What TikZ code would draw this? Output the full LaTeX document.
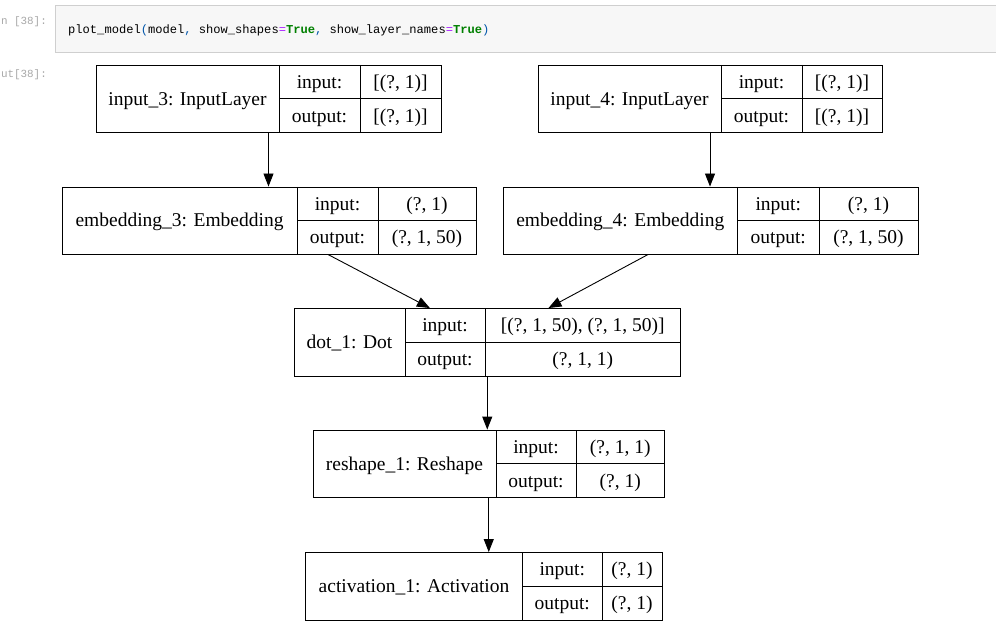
\documentclass[tikz,border=0pt]{standalone}
\usepackage{fontspec}
\setmainfont{Liberation Serif}
\setmonofont{Liberation Mono}
\usepackage{xcolor}
\usetikzlibrary{arrows.meta,calc}
\definecolor{cellbg}{HTML}{F7F7F7}
\definecolor{cellrule}{HTML}{CFCFCF}
\definecolor{prompt}{HTML}{A8A8A8}
\definecolor{cbr}{HTML}{0055AA}
\definecolor{cop}{HTML}{AA22FF}
\definecolor{ckw}{HTML}{008000}
\tikzset{
  layer/.style={draw, line width=0.9pt, inner sep=0pt},
  rule/.style={line width=0.9pt},
  txt/.style={font=\fontsize{19.5}{22}\selectfont, text height=14pt, text depth=1pt, inner sep=0pt},
  flow/.style={line width=0.9pt, -{Triangle[length=13pt,width=10pt]}},
  promptxt/.style={prompt, anchor=base east, font=\ttfamily\fontsize{10.9}{13}\selectfont, inner sep=0pt},
}
\begin{document}
\begin{tikzpicture}[x=1pt,y=-1pt]
\useasboundingbox (0,0) rectangle (996,628);
\clip (0,0) rectangle (996,628);
% notebook cell
\draw [cellrule, fill=cellbg] (55,5.5) rectangle (1005,52);
\node [promptxt] (pin) at (47,24.3) {n [38]:};
\node [promptxt] (pout) at (47,77.3) {ut[38]:};
\node [anchor=base west, font=\ttfamily\fontsize{12.1}{14}\selectfont, inner sep=0pt] (code) at (68,33.3) {plot\_model\textcolor{cbr}{(}model\textcolor{cbr}{,} show\_shapes\textcolor{cop}{=}\textcolor{ckw}{\bfseries True}\textcolor{cbr}{,} show\_layer\_names\textcolor{cop}{=}\textcolor{ckw}{\bfseries True}\textcolor{cbr}{)}};
% input_3
\node [layer, minimum width=345pt, minimum height=67.5pt] (in3) at (268.5,98.75) {};
\draw [rule] (279,65) -- (279,132.5);
\draw [rule] (360,65) -- (360,132.5);
\draw [rule] (279,98.75) -- (441,98.75);
\node [txt] (in3n) at (187.5,98.75) {input\_3: InputLayer};
\node [txt] (in3i) at (319.5,81.9) {input:};
\node [txt] (in3o) at (319.5,115.6) {output:};
\node [txt] (in3iv) at (400.5,81.9) {[(?, 1)]};
\node [txt] (in3ov) at (400.5,115.6) {[(?, 1)]};
% input_4
\node [layer, minimum width=344pt, minimum height=67.5pt] (in4) at (710,98.75) {};
\draw [rule] (721,65) -- (721,132.5);
\draw [rule] (802,65) -- (802,132.5);
\draw [rule] (721,98.75) -- (882,98.75);
\node [txt] (in4n) at (629.5,98.75) {input\_4: InputLayer};
\node [txt] (in4i) at (761.5,81.9) {input:};
\node [txt] (in4o) at (761.5,115.6) {output:};
\node [txt] (in4iv) at (842,81.9) {[(?, 1)]};
\node [txt] (in4ov) at (842,115.6) {[(?, 1)]};
% embedding_3
\node [layer, minimum width=414pt, minimum height=67pt] (emb3) at (269,220.5) {};
\draw [rule] (297,187) -- (297,254);
\draw [rule] (378,187) -- (378,254);
\draw [rule] (297,220.5) -- (476,220.5);
\node [txt] (emb3n) at (179.5,220.5) {embedding\_3: Embedding};
\node [txt] (emb3i) at (337.5,203.75) {input:};
\node [txt] (emb3o) at (337.5,237.25) {output:};
\node [txt] (emb3iv) at (427,203.75) {(?, 1)};
\node [txt] (emb3ov) at (427,237.25) {(?, 1, 50)};
% embedding_4
\node [layer, minimum width=415pt, minimum height=67pt] (emb4) at (710.5,220.5) {};
\draw [rule] (737.5,187) -- (737.5,254);
\draw [rule] (819,187) -- (819,254);
\draw [rule] (737.5,220.5) -- (918,220.5);
\node [txt] (emb4n) at (620.25,220.5) {embedding\_4: Embedding};
\node [txt] (emb4i) at (778.25,203.75) {input:};
\node [txt] (emb4o) at (778.25,237.25) {output:};
\node [txt] (emb4iv) at (868.5,203.75) {(?, 1)};
\node [txt] (emb4ov) at (868.5,237.25) {(?, 1, 50)};
% dot_1
\node [layer, minimum width=386.5pt, minimum height=67.5pt] (dot) at (487.25,342.25) {};
\draw [rule] (405,308.5) -- (405,376);
\draw [rule] (485,308.5) -- (485,376);
\draw [rule] (405,342.25) -- (680.5,342.25);
\node [txt] (dotn) at (349.5,342.25) {dot\_1: Dot};
\node [txt] (doti) at (445,325.4) {input:};
\node [txt] (doto) at (445,359.1) {output:};
\node [txt] (dotiv) at (582.75,325.4) {[(?, 1, 50), (?, 1, 50)]};
\node [txt] (dotov) at (582.75,359.1) {(?, 1, 1)};
% reshape_1
\node [layer, minimum width=351.5pt, minimum height=67.5pt] (resh) at (488.75,463.75) {};
\draw [rule] (496,430) -- (496,497.5);
\draw [rule] (576,430) -- (576,497.5);
\draw [rule] (496,463.75) -- (664.5,463.75);
\node [txt] (reshn) at (404.5,463.75) {reshape\_1: Reshape};
\node [txt] (reshi) at (536,446.9) {input:};
\node [txt] (resho) at (536,480.6) {output:};
\node [txt] (reshiv) at (620.25,446.9) {(?, 1, 1)};
\node [txt] (reshov) at (620.25,480.6) {(?, 1)};
% activation_1
\node [layer, minimum width=356.5pt, minimum height=67.5pt] (act) at (483.75,586.25) {};
\draw [rule] (522.5,552.5) -- (522.5,620);
\draw [rule] (602,552.5) -- (602,620);
\draw [rule] (522.5,586.25) -- (662,586.25);
\node [txt] (actn) at (414,586.25) {activation\_1: Activation};
\node [txt] (acti) at (562.25,569.4) {input:};
\node [txt] (acto) at (562.25,603.1) {output:};
\node [txt] (activ) at (632,569.4) {(?, 1)};
\node [txt] (actov) at (632,603.1) {(?, 1)};
% connectors
\draw [flow] (in3.south) -- (in3.south |- emb3.north);
\draw [flow] (in4.south) -- (in4.south |- emb4.north);
\draw [flow] ($(emb3.south west)!0.642!(emb3.south east)$) -- ($(dot.north west)!0.352!(dot.north east)$);
\draw [flow] ($(emb4.south west)!0.35!(emb4.south east)$) -- ($(dot.north west)!0.658!(dot.north east)$);
\draw [flow] (dot.south) -- (dot.south |- resh.north);
\draw [flow] (resh.south) -- (resh.south |- act.north);
\end{tikzpicture}
\end{document}
